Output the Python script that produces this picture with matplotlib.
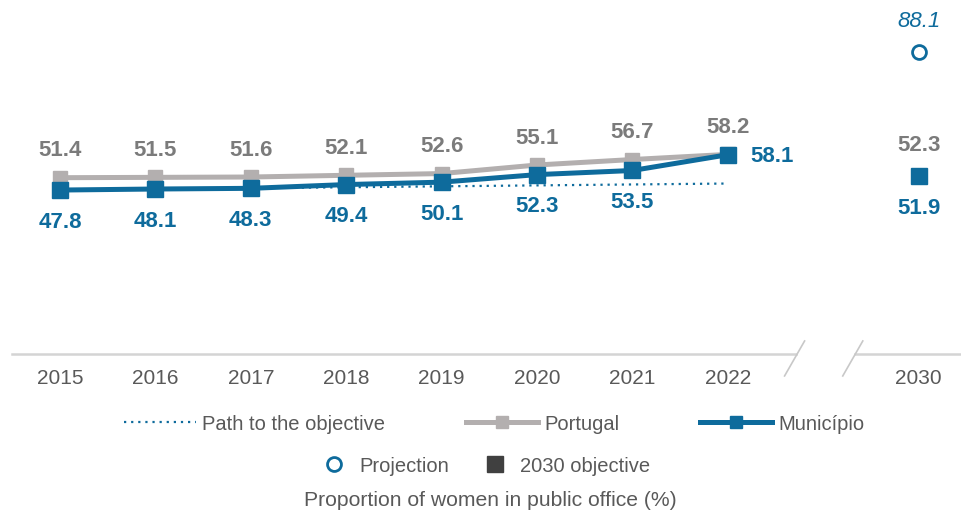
import numpy as np
import matplotlib.pyplot as plt
from matplotlib.lines import Line2D

plt.rcParams['font.family'] = ['Liberation Sans', 'DejaVu Sans']

years = ["2015", "2016", "2017", "2018", "2019", "2020", "2021", "2022"]
portugal = [51.4, 51.5, 51.6, 52.1, 52.6, 55.1, 56.7, 58.2]
municipio = [47.8, 48.1, 48.3, 49.4, 50.1, 52.3, 53.5, 58.1]
path_years = ["2015", "2022"]
path_values = [47.8, 49.7]
target_year = "2030"
projection = 88.1
objective_mun = 51.9
objective_pt = 52.3

blue = "#0e6b9c"
grey_line = "#b3afaf"
grey_text = "#7b7b7b"
tick_col = "#595959"

fig = plt.figure(figsize=(9.62, 5.16), dpi=100)
ax = fig.add_axes([0, 1 - 354 / 516, 1, 354 / 516])

x = np.arange(len(years))
x_target = len(years) + 1
pos = {y: i for i, y in enumerate(years)}
pos[target_year] = x_target

ax.plot([pos[y] for y in path_years], path_values, color=blue, lw=1.6,
        linestyle=(0, (1, 2.2)), zorder=1)
ax.plot(x, portugal, color=grey_line, lw=3.6, marker="s", ms=10, zorder=2)
ax.plot(x, municipio, color=blue, lw=3.6, marker="s", ms=11, zorder=3)
ax.plot([x_target], [projection], marker="o", ms=10, mfc="white", mec=blue, mew=2,
        ls="none")
ax.plot([x_target], [objective_mun], marker="s", ms=11, color=blue, ls="none")

lab_kw = dict(ha="center", va="center", fontsize=16, fontweight="bold")
for i, v in enumerate(portugal):
    ax.annotate(f"{v}", (i, v), xytext=(0, 27), textcoords="offset pixels",
                color=grey_text, **lab_kw)
for i, v in enumerate(municipio):
    if i == len(municipio) - 1:
        ax.annotate(f"{v}", (i, v), xytext=(44, -2), textcoords="offset pixels",
                    color=blue, **lab_kw)
    else:
        ax.annotate(f"{v}", (i, v), xytext=(0, -32), textcoords="offset pixels",
                    color=blue, **lab_kw)
ax.annotate(f"{objective_pt}", (x_target, objective_mun), xytext=(0, 30),
            textcoords="offset pixels", color=grey_text, **lab_kw)
ax.annotate(f"{objective_mun}", (x_target, objective_mun), xytext=(0, -33),
            textcoords="offset pixels", color=blue, **lab_kw)
ax.annotate(f"{projection}", (x_target, projection), xytext=(0, 30),
            textcoords="offset pixels", color=blue, ha="center", va="center",
            fontsize=16, fontstyle="italic")

ax.set_xlim(-60 / 95.4, (962 - 60) / 95.4)
ax.set_ylim(0, 354 / 3.43)
for s in ax.spines.values():
    s.set_visible(False)
ax.set_yticks([])
ax.set_xticks(list(x) + [x_target])
ax.set_xticklabels(years + [target_year], fontsize=15, color=tick_col)
ax.tick_params(axis="x", length=0, pad=11)

# axis line with a break between 2022 and 2030
ax.plot([-0.5, 7.72], [0, 0], color="#d4d4d4", lw=1.8, clip_on=False, zorder=0)
ax.plot([8.33, 10], [0, 0], color="#d4d4d4", lw=1.8, clip_on=False, zorder=0)
for xb in (7.70, 8.31):
    ax.plot([xb - 0.105, xb + 0.105], [-6.4, 3.8], color="#c8c8c8", lw=1.2,
            clip_on=False)

h1 = [Line2D([], [], color=blue, lw=1.6, linestyle=(0, (1, 2.2))),
      Line2D([], [], color=grey_line, lw=3.6, marker="s", ms=9),
      Line2D([], [], color=blue, lw=3.6, marker="s", ms=9)]
fig.legend(h1, ["Path to the objective", "Portugal", "Município"], ncol=3,
           loc="center", bbox_to_anchor=(494 / 962, 1 - 424 / 516), frameon=False,
           fontsize=14.5, labelcolor=tick_col, handlelength=3.6, handletextpad=0.3,
           columnspacing=4.0)
h2 = [Line2D([], [], marker="o", ms=10, mfc="white", mec=blue, mew=2, ls="none"),
      Line2D([], [], marker="s", ms=11, color="#404040", ls="none")]
fig.legend(h2, ["Projection", "2030 objective"], ncol=2, loc="center",
           bbox_to_anchor=(487 / 962, 1 - 466 / 516), frameon=False,
           fontsize=14.5, labelcolor=tick_col, handlelength=1, handletextpad=0.75,
           columnspacing=1.8)
fig.text(490 / 962, 1 - 500 / 516, "Proportion of women in public office (%)",
         ha="center", va="center", fontsize=15.2, color=tick_col)

fig.savefig("out.png", dpi=100)
